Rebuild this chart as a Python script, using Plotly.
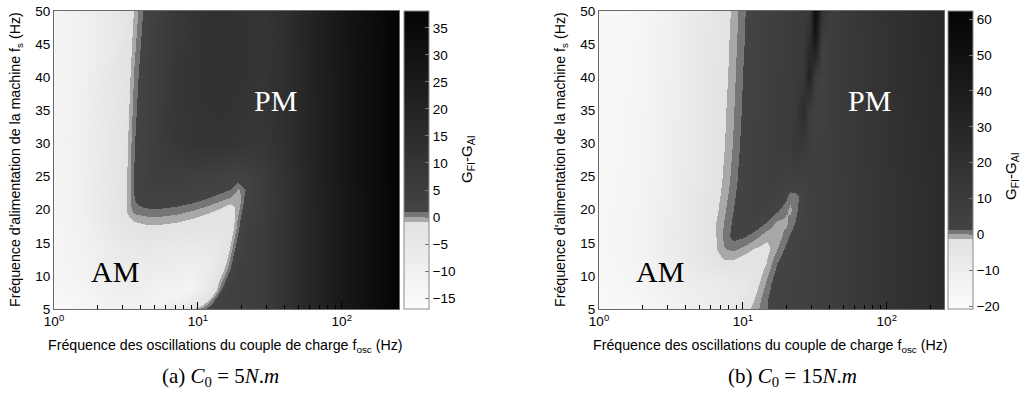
import plotly.graph_objects as go

# ---------------- (a) C0 = 5 N.m ----------------
F_OSC_A = [1, 1.6, 2.5, 3.2, 3.6, 4.2, 5, 7.1, 8.9, 11.2, 14.1, 16.6, 19, 21.9, 28.2, 40, 63, 112, 250]
F_S_A = [5, 6.5, 8, 11, 14, 17, 18.5, 20, 21.5, 23, 25, 30, 40, 50]
G_A = [
    [-14, -13.5, -11, -10, -10, -10.5, -10, -3, -0.9, 1.0, 2.8, 3.3, 3.6, 4, 5.5, 11, 19, 28, 38],
    [-14, -13, -10, -9.5, -9.5, -10, -11, -11.5, -8, -2.1, 2.1, 3.2, 3.6, 4, 5.5, 11, 19, 28, 38],
    [-13.5, -12, -9, -8.5, -8.5, -9, -10, -11, -12, -6, 0.2, 3.2, 3.8, 4.2, 5.5, 11, 19, 28, 38],
    [-13, -11, -8, -7, -7, -7, -7.5, -8, -9, -8, -2.3, 0.9, 3.4, 4.2, 5.5, 11, 19, 28, 38],
    [-12.5, -10.5, -7, -5.5, -5, -5, -5, -5.5, -6, -6, -4.5, -0.6, 1.9, 3.8, 5.5, 11, 19, 28, 38],
    [-12.5, -10, -5, -2.5, -1.8, -1.5, -1.4, -1.7, -2.1, -2.6, -2.8, -1.85, 0.7, 3.3, 5.5, 11, 19, 28, 38],
    [-12.5, -9.5, -4, -1.3, -0.7, -0.45, -0.35, -0.6, -1.0, -1.5, -2.0, -2.2, 0.3, 2.9, 5, 11, 19, 28, 38],
    [-12.5, -9, -3.5, -0.7, 0.4, 0.6, 0.75, 0.45, 0.07, -0.4, -1.0, -1.8, -0.25, 2.4, 5, 11, 19, 28, 38],
    [-12.5, -9, -3.5, -0.75, 0.8, 1.7, 1.85, 1.55, 1.2, 0.75, 0.15, -0.3, -0.8, 1.9, 5, 11, 19.5, 28, 38],
    [-12.5, -9, -3.6, -0.8, 0.95, 2.4, 3.0, 2.7, 2.3, 1.85, 1.25, 0.8, -0.15, 1.1, 5, 11, 19.5, 28, 38],
    [-12.5, -9, -3.7, -0.8, 0.95, 2.7, 4.4, 4.1, 3.8, 3.3, 2.7, 2.0, 1.5, 2.5, 5.5, 11, 20, 28.5, 38],
    [-12, -9, -3.9, -1.0, 0.75, 2.5, 4.8, 8.5, 10, 10.5, 10.5, 10, 9.5, 9, 9, 12.5, 20, 28.5, 38],
    [-12, -9.5, -4.5, -1.6, 0.15, 1.9, 4.2, 8.5, 10.5, 11.5, 12, 12, 11.5, 11, 9.5, 13, 20.5, 28.5, 38],
    [-12, -9.5, -5.3, -2.4, -0.7, 1.1, 3.4, 7.5, 10, 11.5, 12, 12, 11.5, 11, 10, 13.5, 21, 29, 38],
]
CB_TICKS_A = [-15, -10, -5, 0, 5, 10, 15, 20, 25, 30, 35]
ZRANGE_A = (-17.0, 38.1)

# ---------------- (b) C0 = 15 N.m ----------------
F_OSC_B = [1, 2, 4, 6.3, 7.4, 8.5, 10, 12, 14.5, 17.4, 20, 21.4, 22.9, 26.3, 28.8, 31.6, 35.5, 40, 63, 112, 250]
F_S_B = [5, 6.5, 9, 12, 14, 16, 18, 20, 22, 24, 30, 35, 40, 45, 50]
G_B = [
    [-19, -17, -12, -9.5, -8, -5, -2.4, -0.65, 1.1, 2.8, 3.4, 3.6, 3.9, 4.4, 5, 6, 7, 7.5, 12, 18, 25],
    [-18.5, -16, -11, -9, -8, -7, -3.6, -1.3, 1.05, 2.8, 3.4, 3.6, 3.9, 4.4, 5, 6, 7, 7.5, 12, 18, 25],
    [-18, -15, -10, -8, -7, -6.5, -6.5, -2.4, 0.15, 2.6, 3.3, 3.5, 3.8, 4.3, 5, 6, 7, 7.5, 12, 18, 25],
    [-17.5, -14, -8, -2.6, -1.7, -1.8, -2.6, -3.3, -1.3, 1.3, 2.8, 3.2, 3.5, 4.2, 5, 6, 7, 7.5, 12, 18, 25],
    [-17, -13.5, -6.8, -1.7, -0.1, 0.3, -0.4, -1.4, -2.0, 0, 1.7, 2.4, 3, 4, 5, 6, 7, 7.5, 12, 18, 25],
    [-17, -13.5, -6.5, -1.7, 0.35, 1.9, 1.6, 0.6, -0.8, -0.9, 0.75, 1.5, 2.2, 3.8, 5, 6, 7, 7.5, 12, 18, 25],
    [-17, -14, -6.6, -1.6, 0.1, 1.6, 3.3, 2.6, 1.2, -0.4, -0.35, 0.5, 1.4, 3.5, 5, 6, 7, 7.5, 12, 18, 25],
    [-17, -14, -7, -2, -0.25, 1.25, 3.0, 4.5, 3.2, 1.6, 0.2, -0.3, 0.7, 2.8, 5, 6, 7, 7.5, 12, 18, 25],
    [-17, -14.5, -7.3, -2.3, -0.6, 0.9, 2.7, 4.5, 5, 3.6, 1.8, 0.5, 0.6, 2.0, 5, 6, 7, 7.5, 12, 18, 25],
    [-17.5, -14.5, -7.6, -2.6, -0.9, 0.6, 2.4, 4.4, 6, 5.5, 4, 3, 3.5, 4, 6, 7, 7, 7.5, 12, 18, 25],
    [-17.5, -15, -8.1, -3.1, -1.4, 0.1, 1.9, 3.9, 5.9, 8, 9.5, 10, 14, 12, 8, 6, 6, 8, 13, 19, 26],
    [-17.5, -15, -8.3, -3.4, -1.6, -0.15, 1.6, 3.6, 5.6, 7.8, 9.3, 10, 10.5, 24, 9, 5, 5, 8, 13, 19, 26.5],
    [-18, -15.5, -8.6, -3.6, -1.9, -0.4, 1.4, 3.4, 5.4, 7.5, 9, 10, 10.5, 12, 34, 8, 4.5, 7.5, 13.5, 19.5, 27],
    [-18, -15.7, -8.8, -3.9, -2.1, -0.6, 1.1, 3.1, 5.2, 7.2, 8.7, 9.8, 10.3, 11, 24, 42, 4.5, 7.5, 13.5, 19.5, 27.5],
    [-18, -16, -9, -4.1, -2.35, -0.85, 0.9, 2.9, 5, 7, 8.5, 9.5, 10, 11, 12, 58, 18, 7.5, 14, 20, 28],
]
CB_TICKS_B = [-20, -10, 0, 10, 20, 30, 40, 50, 60]
ZRANGE_B = (-20.8, 62.3)

X_MAJOR = [1, 10, 100]
X_MAJOR_TEXT = ["10<sup>0</sup>", "10<sup>1</sup>", "10<sup>2</sup>"]
X_MINOR = [2, 3, 4, 5, 6, 7, 8, 9, 20, 30, 40, 50, 60, 70, 80, 90, 200]
Y_TICKS = [5, 10, 15, 20, 25, 30, 35, 40, 45, 50]

W, H = 1021, 410
SANS = "Liberation Sans, Arial, sans-serif"
SERIF = "Liberation Serif, Times New Roman, serif"


def gray(v):
    v = int(round(v))
    return f"rgb({v},{v},{v})"


def make_scale(zmin, zmax):
    # MATLAB-like 64-entry map: two grey bands just around 0
    w = (zmax - zmin) / 64.0
    p = lambda v: (v - zmin) / (zmax - zmin)
    return [
        [0.0, gray(252)],
        [p(-w), gray(226)],
        [p(-w), gray(168)],
        [p(0), gray(168)],
        [p(0), gray(118)],
        [p(w), gray(118)],
        [p(w), gray(68)],
        [1.0, gray(4)],
    ]


def px(x):
    return x / W


def py(y):
    return 1 - y / H


tickfont = dict(family=SANS, size=13.5, color="black")

fig = go.Figure()

panels = [
    (F_OSC_A, F_S_A, G_A, ZRANGE_A, CB_TICKS_A, "x", "y", 404),
    (F_OSC_B, F_S_B, G_B, ZRANGE_B, CB_TICKS_B, "x2", "y2", 948),
]
for fx, fy, g, (zmin, zmax), cbt, xa, ya, cbx in panels:
    fig.add_trace(go.Heatmap(
        x=fx, y=fy, z=g, zmin=zmin, zmax=zmax, zsmooth="best",
        colorscale=make_scale(zmin, zmax), xaxis=xa, yaxis=ya,
        hoverinfo="skip",
        colorbar=dict(
            x=px(cbx), xanchor="left", xpad=0, ypad=0,
            y=py(160), yanchor="middle",
            thickness=25, thicknessmode="pixels",
            len=298, lenmode="pixels",
            outlinewidth=1, outlinecolor="#8a8a8a",
            ticks="inside", ticklen=4, tickcolor="#777",
            tickvals=cbt, tickfont=tickfont,
        ),
    ))

xdom_a = [px(54), px(399)]
xdom_b = [px(599), px(944)]
ydom = [py(309), py(11)]

xcommon = dict(
    type="log", range=[0, 2.398], tickmode="array", tickvals=X_MAJOR, ticktext=X_MAJOR_TEXT,
    ticks="inside", ticklen=7, tickwidth=1, tickcolor="black", automargin=False,
    minor=dict(tickmode="array", tickvals=X_MINOR, ticks="inside", ticklen=4, tickcolor="black"),
    showgrid=False, zeroline=False, showline=True, mirror=True, linecolor="#6a6a6a", linewidth=1,
    tickfont=tickfont,
)
ycommon = dict(
    range=[5, 50], tickmode="array", tickvals=Y_TICKS, ticks="", automargin=False,
    showgrid=False, zeroline=False, showline=True, mirror=True, linecolor="#6a6a6a", linewidth=1,
    tickfont=tickfont,
)

fig.update_layout(
    template="none",
    width=W, height=H, margin=dict(l=0, r=0, t=0, b=0, pad=0), autosize=False,
    paper_bgcolor="white", plot_bgcolor="white", showlegend=False,
    xaxis=dict(domain=xdom_a, anchor="y", **xcommon),
    yaxis=dict(domain=ydom, anchor="x", **ycommon),
    xaxis2=dict(domain=xdom_b, anchor="y2", **xcommon),
    yaxis2=dict(domain=ydom, anchor="x2", **ycommon),
)

XTITLE = "Fréquence des oscillations du couple de charge f<sub>osc</sub> (Hz)"
YTITLE = "Fréquence d'alimentation de la machine f<sub>s</sub> (Hz)"
CBTITLE = "G<sub>FI</sub>-G<sub>AI</sub>"


def note(x, y, text, font, angle=0):
    return dict(x=px(x), y=py(y), xref="paper", yref="paper", text=text, showarrow=False,
                textangle=angle, xanchor="center", yanchor="middle", font=font)


f14 = dict(family=SANS, size=14.2, color="black")
ann = []
for cx, ycx, cbtx, cbty, capx, cap, pmx, amx in [
    (225, 16, 467, 159, 220, "(a) <i>C</i><sub>0</sub> = 5<i>N</i>.<i>m</i>", 275, 115),
    (770, 561, 1012, 176, 792, "(b) <i>C</i><sub>0</sub> = 15<i>N</i>.<i>m</i>", 869, 660),
]:
    ann.append(note(cx, 346, XTITLE, f14))
    ann.append(note(ycx, 160, YTITLE, f14, -90))
    ann.append(note(cbtx, cbty, CBTITLE, dict(family=SANS, size=15, color="black"), -90))
    ann.append(note(capx, 377, cap, dict(family=SERIF, size=21, color="black")))
    ann.append(note(pmx, 100, "PM", dict(family=SERIF, size=30, color="white")))
    ann.append(note(amx, 271, "AM", dict(family=SERIF, size=30, color="black")))

fig.update_layout(annotations=ann)
fig.write_html("out.html", config={"displayModeBar": False},
               post_script="document.body.style.margin='0px';document.body.style.padding='0px';")
